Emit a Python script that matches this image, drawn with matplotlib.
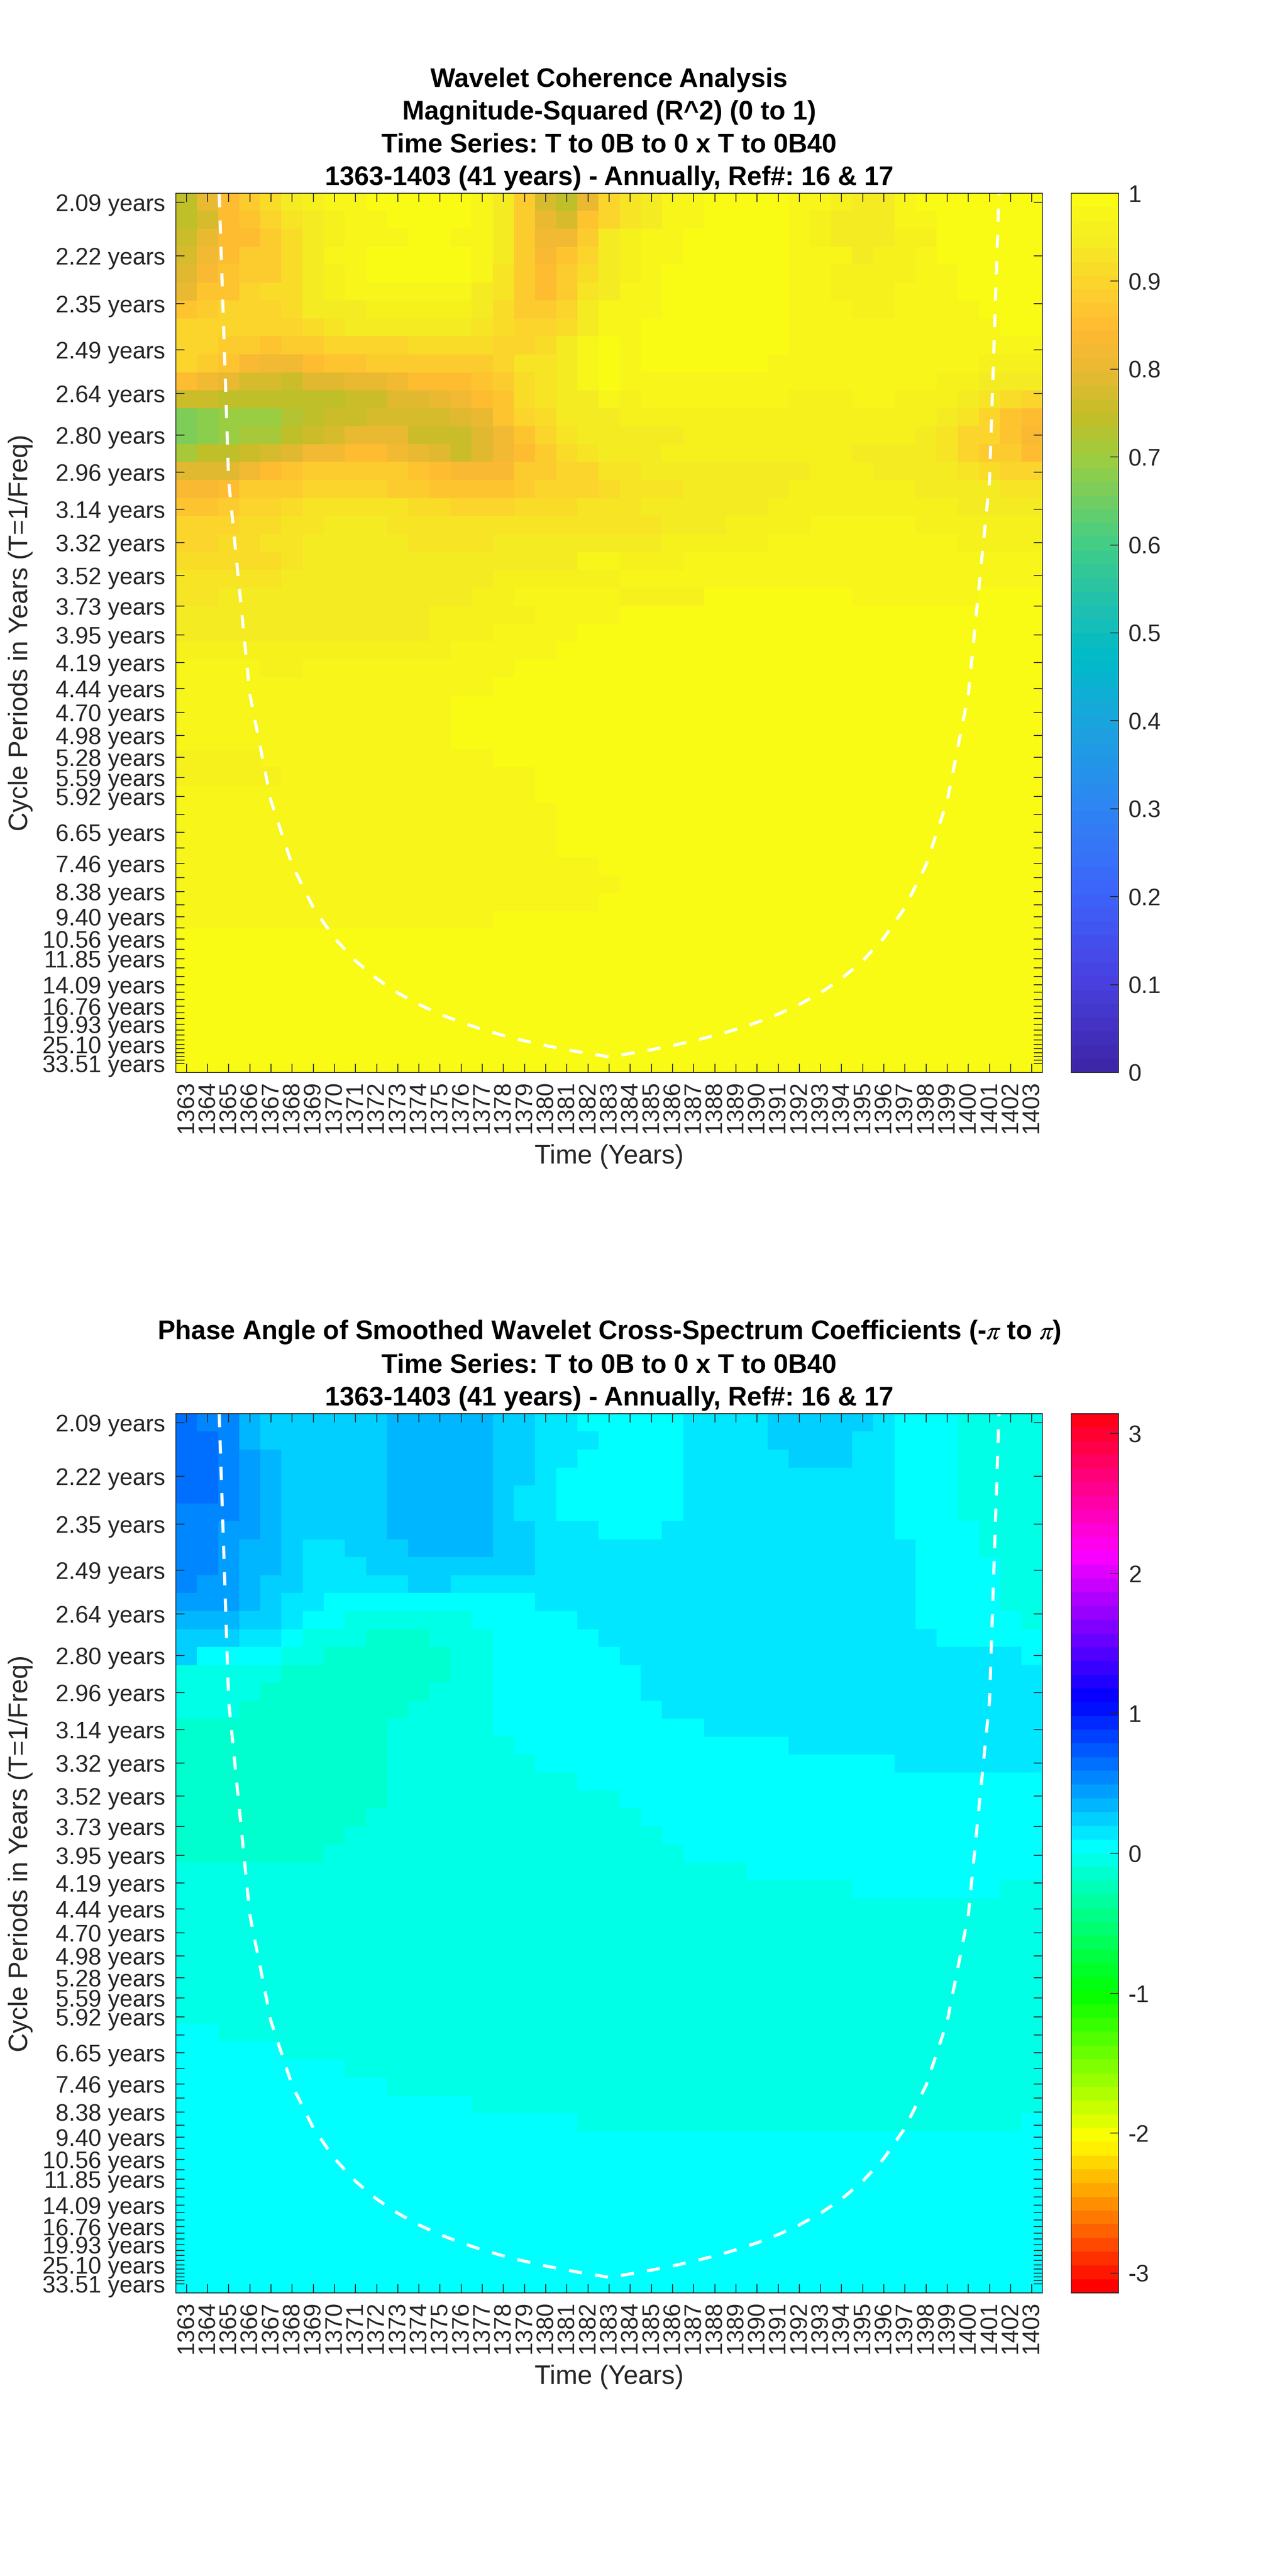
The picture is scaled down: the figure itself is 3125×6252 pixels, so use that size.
import colorsys

import numpy as np
import matplotlib
matplotlib.use("Agg")
import matplotlib.pyplot as plt
from matplotlib.colors import LinearSegmentedColormap, ListedColormap

# values, rows go from the shortest period to the longest

years = list(range(1363, 1404))

periods = [2.09, 2.22, 2.35, 2.49, 2.64, 2.80, 2.96, 3.14, 3.32, 3.52, 3.73, 3.95, 4.19,
           4.44, 4.70, 4.98, 5.28, 5.59, 5.92, 6.27, 6.65, 7.04, 7.46, 7.90, 8.38, 8.88,
           9.40, 9.96, 10.56, 11.19, 11.85, 12.55, 13.30, 14.09, 14.93, 15.81, 16.76,
           17.75, 18.80, 19.93, 21.11, 22.37, 23.70, 25.10, 26.60, 28.18, 29.85, 31.63, 33.51]

# only these get a text label, the other ticks stay blank
labelled_periods = [2.09, 2.22, 2.35, 2.49, 2.64, 2.80, 2.96, 3.14, 3.32, 3.52, 3.73, 3.95,
                    4.19, 4.44, 4.70, 4.98, 5.28, 5.59, 5.92, 6.65, 7.46, 8.38, 9.40, 10.56,
                    11.85, 14.09, 16.76, 19.93, 25.10, 33.51]

# cone of influence, one period per year from 1364 to 1402
coi_years = list(range(1364, 1403))
coi_periods = [1.5, 3.0, 4.5, 6.0, 7.5, 9.0, 10.5, 12.0, 13.5, 15.0, 16.5, 18.0, 19.5, 21.0,
               22.5, 24.0, 25.5, 27.0, 28.5, 30.0, 28.5, 27.0, 25.5, 24.0, 22.5, 21.0, 19.5,
               18.0, 16.5, 15.0, 13.5, 12.0, 10.5, 9.0, 7.5, 6.0, 4.5, 3.0, 1.5]

coherence = [
    [.74, .80, .85, .89, .92, .94, .96, .98, .98, .99] + [.995] * 4 + [.98, .94, .88, .78, .74, .80, .90] + [.925, .95, .97, .97] + [.99] * 4 + [.975, .975, .965, .94, .94, .97] + [.985] * 6,
    [.74, .78, .85, .87, .90, .93, .95, .96, .98, .98] + [.995] * 4 + [.97, .94, .88, .80, .78, .86, .90] + [.93, .95, .97, .97] + [.99] * 4 + [.975, .965, .94, .94, .94, .97, .97] + [.99] * 5,
    [.75, .80, .85, .85, .89, .92, .95, .96, .98, .98, .98, .995, .995, .98, .97, .94, .89, .82, .82, .89, .95] + [.965, .97, .97] + [.99] * 5 + [.975, .965, .94, .94, .94, .96, .965] + [.99] * 5,
    [.77, .82, .85, .88, .89, .92, .95, .97, .97] + [.985] * 5 + [.97, .94, .89, .84, .86, .90, .94] + [.965, .975, .975] + [.99] * 5 + [.975, .975, .97, .945, .965, .965, .97] + [.99] * 5,
    [.79, .84, .86, .88, .89, .92, .95, .96, .97] + [.985] * 5 + [.97, .93, .89, .85, .88, .92, .95] + [.96, .975] + [.99] * 6 + [.98, .98] + [.96] * 4 + [.975, .975] + [.99] * 4,
    [.81, .86, .87, .90, .91, .92, .95, .96, .97, .97, .98, .98, .98, .97, .95, .93, .89, .85, .89, .93, .95] + [.975, .975] + [.99] * 6 + [.98, .98] + [.96] * 3 + [.98] * 3 + [.99] * 4,
    [.86, .88, .90, .90, .90, .92, .94, .95, .95] + [.965] * 5 + [.95, .92, .88, .88, .90, .94, .97] + [.975, .975] + [.99] * 6 + [.98] * 3 + [.96, .96] + [.98] * 4 + [.99] * 3,
    [.90] * 6 + [.92, .93, .94, .94] + [.95] * 4 + [.93, .91, .90, .90, .91, .95, .97] + [.98] + [.99] * 7 + [.98] * 10 + [.99] * 2,
    [.905, .905, .89, .88, .87, .88, .89, .90, .90, .90, .90, .92, .92, .92, .91, .90, .90, .92, .94, .975, .985] + [.98] + [.995] * 7 + [.98] * 12,
    [.90, .885, .87, .84, .82, .82, .85, .86, .86, .875, .875, .89, .89, .89, .89, .90, .925, .93, .95, .97, .985] + [.98] + [.995] * 6 + [.98] * 10 + [.955] * 3,
    [.845, .82, .80, .775, .775, .765, .785, .785, .80, .80, .82, .845, .845, .85, .87, .89, .92, .93, .95, .975, .985] + [.975] * 15 + [.965, .965] + [.945] * 3,
    [.755, .755] + [.735] * 5 + [.745, .765, .765, .785, .785, .80, .82, .845, .87, .91, .93, .945, .95, .97] + [.965] + [.975] * 7 + [.96] * 3 + [.975, .975] + [.965] * 3 + [.945, .925, .915, .90],
    [.665, .685, .70, .70, .70, .725, .735, .755, .755, .77, .77, .77, .77, .785, .81, .86, .90, .92, .94, .945, .945] + [.96] * 14 + [.955, .945, .925, .905, .87, .85],
    [.665, .685, .70, .715, .715, .745, .76, .78, .80, .80, .80, .765, .765, .765, .795, .82, .865, .905, .93, .945, .945] + [.95] * 3 + [.96] * 9 + [.955, .955, .945, .935, .895, .895, .865, .84],
    [.71, .735, .735, .75, .77, .795, .825, .825, .845, .845, .825, .80, .79, .755, .785, .82, .855, .885, .915, .935, .945] + [.94, .94] + [.955] * 7 + [.96, .96] + [.95] * 3 + [.945, .925, .905, .875, .875, .85],
    [.785] * 3 + [.825, .85, .865, .875, .89, .89, .875, .875, .86, .85, .83, .83, .84, .875, .885, .90, .90, .925] + [.925] + [.94] * 4 + [.945] * 4 + [.96] * 3 + [.95, .95, .945, .945, .925, .91, .90, .90],
    [.84, .84, .85, .875, .885, .885, .895, .905, .905, .905, .89, .88, .87, .87, .87, .87, .885, .895, .90, .90, .915] + [.925] * 3 + [.94] * 3 + [.95, .95] + [.96] * 6 + [.945] * 3 + [.94, .925, .925],
    [.87, .87, .885, .90, .90, .91] + [.925] * 5 + [.915, .915, .90, .90, .90, .91, .91, .91, .925, .925] + [.93] + [.94] * 4 + [.95, .95] + [.96] * 9 + [.95] * 3 + [.94],
    [.895, .905, .905, .915, .915, .925, .935, .945, .945, .945] + [.925] * 8 + [.935] * 3 + [.935, .935] + [.945] * 3 + [.955] * 4 + [.97] * 5 + [.965] * 4 + [.955, .955],
    [.905, .905, .91, .91, .925, .925] + [.945] * 5 + [.93] * 4 + [.94] * 3 + [.95] * 3 + [.945, .945] + [.955] * 5 + [.97] * 9 + [.96] * 4,
    [.915] * 3 + [.92, .92, .925] + [.945] * 10 + [.95] * 3 + [.97, .97] + [.955] * 3 + [.97] * 17,
    [.925] * 5 + [.945] * 10 + [.955, .955] + [.965] * 4 + [.97] * 20,
    [.925, .925] + [.945] * 12 + [.96, .96, .975, .975] + [.98] * 3 + [.965] * 4 + [.985] * 7 + [.97] * 6 + [.985] * 3,
    [.945] * 12 + [.955, .955] + [.965] * 3 + [.975] * 4 + [.995] * 20,
    [.95] * 12 + [.965] * 3 + [.975] * 4 + [.995] * 22,
    [.965] * 13 + [.975] * 5 + [.995] * 23,
    [.975] * 4 + [.965] * 2 + [.975] * 10 + [.995] * 25,
    [.975] * 15 + [.995] * 26,
    [.98] * 13 + [.995] * 28,
    [.98] * 13 + [.995] * 28,
    [.98] * 13 + [.995] * 28,
    [.965] * 4 + [.98] * 11 + [.995] * 26,
    [.965] * 5 + [.98] * 12 + [.995] * 24,
    [.98] * 17 + [.995] * 24,
    [.98] * 18 + [.995] * 23,
    [.98] * 18 + [.995] * 23,
    [.98] * 18 + [.995] * 23,
    [.98] * 20 + [.995] * 21,
    [.98] * 21 + [.995] * 20,
    [.98] * 20 + [.995] * 21,
    [.98] * 15 + [.995] * 26,
    [.995] * 41,
    [.995] * 41,
    [.995] * 41,
    [.995] * 41,
    [.995] * 41,
    [.995] * 41,
    [.995] * 41,
    [.985] * 41,
]

# phase levels seen in the lower panel, radians
A, B, C, D, E, F, G, H, J = 0.638, 0.540, 0.442, 0.344, 0.245, 0.147, 0.049, -0.049, -0.147

phase = [
    [A] + [B] * 2 + [D] + [E] * 6 + [D] * 5 + [E] * 2 + [F] * 2 + [G] * 5 + [F] * 4 + [E] * 5 + [F] + [G] * 3 + [H] * 4,
    [A] * 2 + [B] + [D] + [E] * 6 + [D] * 5 + [E] * 2 + [F] * 3 + [G] * 4 + [F] * 4 + [E] * 4 + [F] * 2 + [G] * 3 + [H] * 4,
    [A] * 2 + [B, C, D] + [E] * 5 + [D] * 5 + [E] * 2 + [F] * 2 + [G] * 5 + [F] * 5 + [E] * 3 + [F] * 2 + [G] * 3 + [H] * 4,
    [A] * 2 + [B, C, D] + [E] * 5 + [D] * 5 + [E] * 2 + [F] + [G] * 6 + [F] * 10 + [G] * 3 + [H] * 4,
    [A] * 2 + [B, C, D] + [E] * 5 + [D] * 5 + [E] + [F] * 2 + [G] * 6 + [F] * 10 + [G] * 3 + [H] * 4,
    [B] * 3 + [C, D] + [E] * 5 + [D] * 5 + [E] + [F] * 2 + [G] * 6 + [F] * 10 + [G] * 3 + [H] * 4,
    [B] * 2 + [C] * 2 + [D] + [E] * 5 + [D] * 5 + [E] * 2 + [F] * 3 + [G] * 3 + [F] * 11 + [G] * 4 + [H] * 3,
    [B] * 2 + [C] + [D] * 2 + [E] + [F] * 2 + [E] * 3 + [D] * 4 + [E] * 2 + [F] * 18 + [G] * 3 + [H] * 3,
    [B] * 2 + [C] + [D] * 2 + [E] + [F] * 3 + [E] * 8 + [F] * 18 + [G] * 4 + [H] * 2,
    [B] + [C] * 2 + [D] + [E] * 2 + [F] * 5 + [E] * 2 + [F] * 22 + [G] * 4 + [H] * 2,
    [C] * 3 + [D, E] + [F] * 2 + [G] * 10 + [F] * 18 + [G] * 4 + [H] * 2,
    [D] * 3 + [E] * 2 + [F] + [G] * 2 + [H] * 6 + [G] * 5 + [F] * 16 + [G] * 5 + [H],
    [E] * 3 + [F] * 2 + [G] + [H] * 3 + [J] * 3 + [H] * 3 + [G] * 5 + [F] * 16 + [G] * 5,
    [E] + [G] * 4 + [H] * 2 + [J] * 6 + [H] * 2 + [G] * 6 + [F] * 19 + [G],
    [H] * 5 + [J] * 8 + [H] * 2 + [G] * 7 + [F] * 19,
    [H] * 4 + [J] * 8 + [H] * 3 + [G] * 7 + [F] * 19,
    [H] * 3 + [J] * 8 + [H] * 4 + [G] * 8 + [F] * 18,
    [J] * 10 + [H] * 5 + [G] * 10 + [F] * 16,
    [J] * 10 + [H] * 6 + [G] * 13 + [F] * 12,
    [J] * 10 + [H] * 7 + [G] * 17 + [F] * 7,
    [J] * 10 + [H] * 9 + [G] * 22,
    [J] * 10 + [H] * 11 + [G] * 20,
    [J] * 9 + [H] * 13 + [G] * 19,
    [J] * 8 + [H] * 15 + [G] * 18,
    [J] * 7 + [H] * 17 + [G] * 17,
    [H] * 27 + [G] * 14,
    [H] * 32 + [G] * 7 + [H] * 2,
    [H] * 41,
    [H] * 41,
    [H] * 41,
    [H] * 41,
    [H] * 41,
    [H] * 41,
    [H] * 41,
    [G] * 2 + [H] * 39,
    [G] * 5 + [H] * 36,
    [G] * 8 + [H] * 33,
    [G] * 10 + [H] * 31,
    [G] * 14 + [H] * 27,
    [G] * 19 + [H] * 21 + [G],
    [G] * 41,
    [G] * 41,
    [G] * 41,
    [G] * 41,
    [G] * 41,
    [G] * 41,
    [G] * 41,
    [G] * 41,
    [G] * 41,
]

coherence_ticks = [0, .1, .2, .3, .4, .5, .6, .7, .8, .9, 1]
coherence_tick_labels = ["0", "0.1", "0.2", "0.3", "0.4", "0.5", "0.6", "0.7", "0.8", "0.9", "1"]
phase_ticks = [-3, -2, -1, 0, 1, 2, 3]

coherence_title = ["Wavelet Coherence Analysis", "Magnitude-Squared (R^2) (0 to 1)",
                   "Time Series: T to 0B to 0 x T to 0B40",
                   "1363-1403 (41 years) - Annually, Ref#: 16 & 17"]
phase_title = [r"Phase Angle of Smoothed Wavelet Cross-Spectrum Coefficients (-$\pi$ to $\pi$)",
               "Time Series: T to 0B to 0 x T to 0B40",
               "1363-1403 (41 years) - Annually, Ref#: 16 & 17"]

# colours picked off the colour bar
parula_colors = [(0.00, "#3e26a8"), (0.10, "#4840e1"), (0.20, "#3c64fa"), (0.30, "#2d85f2"),
                 (0.40, "#19a5dc"), (0.47, "#00bbc8"), (0.53, "#1fbfb0"), (0.60, "#41cd87"),
                 (0.70, "#9bcd41"), (0.75, "#c3be28"), (0.80, "#e6b932"), (0.85, "#ffb932"),
                 (0.90, "#fcd22d"), (0.95, "#f5eb23"), (1.00, "#f9fb15")]

DPI = 100
W, H_PX = 3125, 6252
PX = 72 / DPI  # one pixel in points
DARK = "#262626"

plt.rcParams["font.family"] = ["Liberation Sans", "DejaVu Sans"]
plt.rcParams["mathtext.fontset"] = "stix"
plt.rcParams["axes.unicode_minus"] = False


def box(left, top, right, bottom):
    return [left / W, 1 - bottom / H_PX, (right - left) / W, (bottom - top) / H_PX]


def draw_panel(fig, top, values, cmap, vmin, vmax, title, ticks, tick_labels):
    bottom = top + 2134
    ax = fig.add_axes(box(427, top, 2531, bottom))

    freq = 1 / np.array(periods)
    half = (freq[0] - freq[-1]) / (len(periods) - 1) / 2
    # rows are evenly spaced between the two end frequencies, ticks sit on the real ones
    im = ax.imshow(np.array(values), cmap=cmap, vmin=vmin, vmax=vmax, aspect="auto",
                   interpolation="nearest",
                   extent=[years[0] - 0.5, years[-1] + 0.5, freq[-1] - half, freq[0] + half])

    # dash 32 px, gap 32 px, offset so that a dash starts where the line enters the axes
    line_px = 7.5
    ax.plot(coi_years, 1 / np.array(coi_periods), color="white", lw=line_px * PX,
            linestyle=(39.5 / line_px, (32 / line_px, 32 / line_px)), dash_capstyle="butt")

    ax.set_xlim(years[0] - 0.5, years[-1] + 0.5)
    ax.set_ylim(freq[-1] - half, freq[0] + half)

    ax.set_xticks(years)
    ax.set_xticklabels([str(y) for y in years], rotation=90)
    ax.set_yticks(freq)
    ax.set_yticklabels(["%.2f years" % p if p in labelled_periods else "" for p in periods])
    ax.tick_params(axis="x", direction="in", top=True, bottom=True, length=21 * PX,
                   width=2.2 * PX, color=DARK, labelcolor=DARK, labelsize=57 * PX, pad=20 * PX)
    ax.tick_params(axis="y", direction="in", left=True, right=True, length=21 * PX,
                   width=2.2 * PX, color=DARK, labelcolor=DARK, labelsize=57 * PX, pad=26 * PX)
    for spine in ax.spines.values():
        spine.set_color(DARK)
        spine.set_linewidth(2 * PX)

    ax.set_xlabel("Time (Years)", fontsize=64 * PX, color=DARK, va="center")
    ax.xaxis.set_label_coords(0.5, -204 / 2134)
    ax.set_ylabel("Cycle Periods in Years (T=1/Freq)", fontsize=64 * PX, color=DARK, va="center")
    ax.yaxis.set_label_coords((50 - 427) / 2104, 0.5)

    ax.set_title("\n".join(title), fontsize=64 * PX, fontweight="bold", color="black",
                 linespacing=1.41, pad=20 * PX)

    cax = fig.add_axes(box(2601, top, 2716, bottom))
    bar = fig.colorbar(im, cax=cax)
    bar.set_ticks(ticks)
    if tick_labels is not None:
        bar.set_ticklabels(tick_labels)
    cax.tick_params(direction="in", right=True, length=20 * PX, width=2 * PX, color=DARK,
                    labelcolor=DARK, labelsize=57 * PX, pad=24 * PX)
    bar.outline.set_edgecolor(DARK)
    bar.outline.set_linewidth(2 * PX)
    return ax


def main():
    parula = LinearSegmentedColormap.from_list("parula_like", parula_colors, N=64)
    # same steps as matlab hsv(64)
    hsv_map = ListedColormap([colorsys.hsv_to_rgb(i / 64, 1, 1) for i in range(64)])

    fig = plt.figure(figsize=(W / DPI, H_PX / DPI), dpi=DPI, facecolor="white")
    draw_panel(fig, 469, coherence, parula, 0, 1, coherence_title,
               coherence_ticks, coherence_tick_labels)
    draw_panel(fig, 3431, phase, hsv_map, -np.pi, np.pi, phase_title, phase_ticks, None)
    fig.savefig("out.png", dpi=DPI)


if __name__ == "__main__":
    main()
